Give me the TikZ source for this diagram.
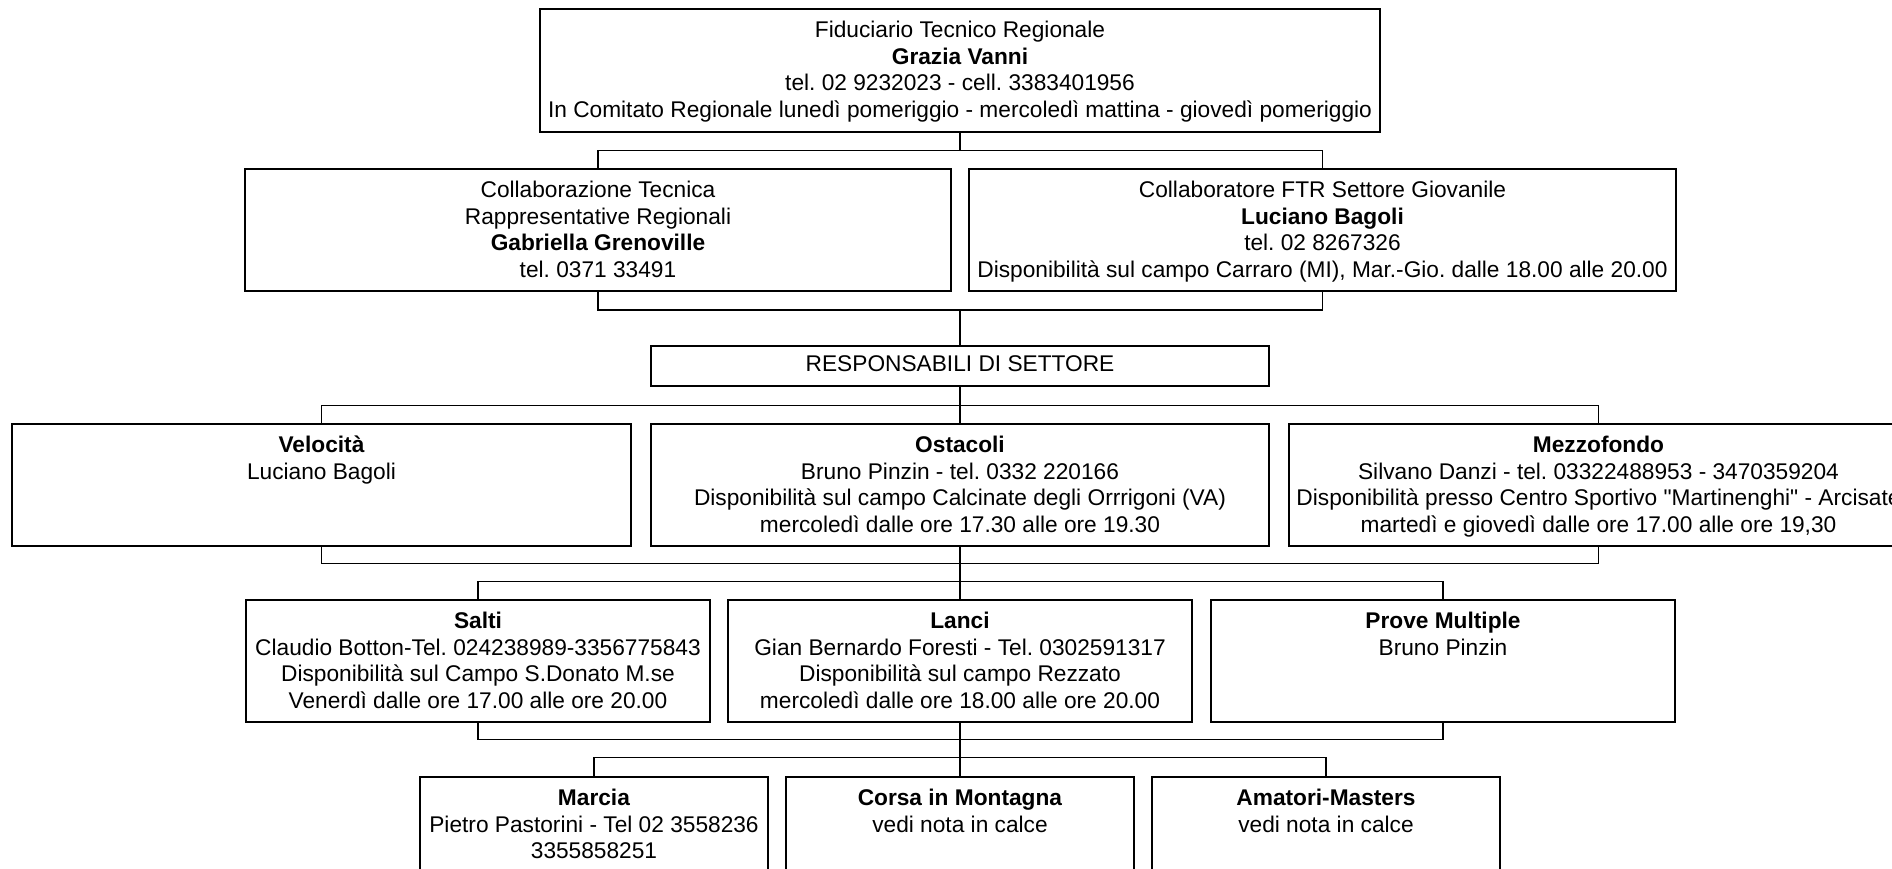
\documentclass[tikz,border=0pt]{standalone}
\usepackage{fontspec}
\setmainfont{Liberation Sans}[Ligatures=TeXOff]
\usetikzlibrary{fit}
\frenchspacing
\begin{document}
\begin{tikzpicture}[x=1pt,y=-1pt,
  box/.style={draw=black,line width=1.6pt,inner sep=0pt,rectangle},
  txt/.style={anchor=north,align=center,inner sep=0pt,font=\fontsize{22.7}{26.8}\selectfont\frenchspacing,execute at begin node=\strut},
  conn/.style={draw=black,line width=1.4pt}]
\useasboundingbox (0,0) rectangle (1892,869);
\clip (0,0) rectangle (1892,869);
% boxes
\node[box,fit={(540,9)(1380,132)}] (top) {};
\node[box,fit={(245,169)(951,291)}] (cl) {};
\node[box,fit={(969,169)(1676,291)}] (cr) {};
\node[box,fit={(651,346)(1269,386)}] (resp) {};
\node[box,fit={(12,424)(631,546)}] (velo) {};
\node[box,fit={(651,424)(1269,546)}] (osta) {};
\node[box,fit={(1289,424)(1908,546)}] (mezzo) {};
\node[box,fit={(246,600)(710,722)}] (salti) {};
\node[box,fit={(728,600)(1192,722)}] (lanci) {};
\node[box,fit={(1211,600)(1675,722)}] (prove) {};
\node[box,fit={(420,777)(768,899)}] (marcia) {};
\node[box,fit={(786,777)(1134,899)}] (corsa) {};
\node[box,fit={(1152,777)(1500,899)}] (amat) {};
% texts
\node[txt] (topt) at ([yshift=-12.5pt]top.north) {Fiduciario Tecnico Regionale\\\textbf{Grazia Vanni}\\tel. 02 9232023 - cell. 3383401956\\In Comitato Regionale lunedì pomeriggio - mercoledì mattina - giovedì pomeriggio};
\node[txt] (clt) at ([yshift=-12.5pt]cl.north) {Collaborazione Tecnica\\Rappresentative Regionali\\\textbf{Gabriella Grenoville}\\tel. 0371 33491};
\node[txt] (crt) at ([yshift=-12.5pt]cr.north) {Collaboratore FTR Settore Giovanile\\\textbf{Luciano Bagoli}\\tel. 02 8267326\\Disponibilità sul campo Carraro (MI), Mar.-Gio. dalle 18.00 alle 20.00};
\node[txt,anchor=center,execute at begin node={}] (respt) at (resp.center) {RESPONSABILI DI SETTORE};
\node[txt] (velot) at ([yshift=-12.5pt]velo.north) {\textbf{Velocità}\\Luciano Bagoli};
\node[txt] (ostat) at ([yshift=-12.5pt]osta.north) {\textbf{Ostacoli}\\Bruno Pinzin - tel. 0332 220166\\Disponibilità sul campo Calcinate degli Orrrigoni (VA)\\mercoledì dalle ore 17.30 alle ore 19.30};
\node[txt] (mezzot) at ([yshift=-12.5pt]mezzo.north) {\textbf{Mezzofondo}\\Silvano Danzi - tel. 03322488953 - 3470359204\\Disponibilità presso Centro Sportivo "Martinenghi" - Arcisate\\martedì e giovedì dalle ore 17.00 alle ore 19,30};
\node[txt] (saltit) at ([yshift=-12.5pt]salti.north) {\textbf{Salti}\\Claudio Botton-Tel. 024238989-3356775843\\Disponibilità sul Campo S.Donato M.se\\Venerdì dalle ore 17.00 alle ore 20.00};
\node[txt] (lancit) at ([yshift=-12.5pt]lanci.north) {\textbf{Lanci}\\Gian Bernardo Foresti - Tel. 0302591317\\Disponibilità sul campo Rezzato\\mercoledì dalle ore 18.00 alle ore 20.00};
\node[txt] (provet) at ([yshift=-12.5pt]prove.north) {\textbf{Prove Multiple}\\Bruno Pinzin};
\node[txt] (marciat) at ([yshift=-12.5pt]marcia.north) {\textbf{Marcia}\\Pietro Pastorini - Tel 02 3558236\\3355858251};
\node[txt] (corsat) at ([yshift=-12.5pt]corsa.north) {\textbf{Corsa in Montagna}\\vedi nota in calce};
\node[txt] (amatt) at ([yshift=-12.5pt]amat.north) {\textbf{Amatori-Masters}\\vedi nota in calce};
% junctions
\coordinate (b1) at (960,150.5);
\coordinate (b2) at (960,310);
\coordinate (b3) at (960,405.5);
\coordinate (b4) at (960,563.5);
\coordinate (b5) at (960,581.6);
\coordinate (b6) at (960,739.6);
\coordinate (b7) at (960,757.7);
% connectors
\draw[conn] (top.south) -- (b1);
\draw[conn] (b1) -| (cl.north);
\draw[conn] (b1) -| (cr.north);
\draw[conn] (cl.south) |- (b2);
\draw[conn] (cr.south) |- (b2);
\draw[conn] (b2) -- (resp.north);
\draw[conn] (resp.south) -- (b3);
\draw[conn] (b3) -| (velo.north);
\draw[conn] (b3) -- (osta.north);
\draw[conn] (b3) -| (mezzo.north);
\draw[conn] (velo.south) |- (b4);
\draw[conn] (mezzo.south) |- (b4);
\draw[conn] (osta.south) -- (b4);
\draw[conn] (b4) -- (b5);
\draw[conn] (b5) -| (salti.north);
\draw[conn] (b5) -- (lanci.north);
\draw[conn] (b5) -| (prove.north);
\draw[conn] (salti.south) |- (b6);
\draw[conn] (prove.south) |- (b6);
\draw[conn] (lanci.south) -- (b6);
\draw[conn] (b6) -- (b7);
\draw[conn] (b7) -| (marcia.north);
\draw[conn] (b7) -- (corsa.north);
\draw[conn] (b7) -| (amat.north);
\end{tikzpicture}
\end{document}
